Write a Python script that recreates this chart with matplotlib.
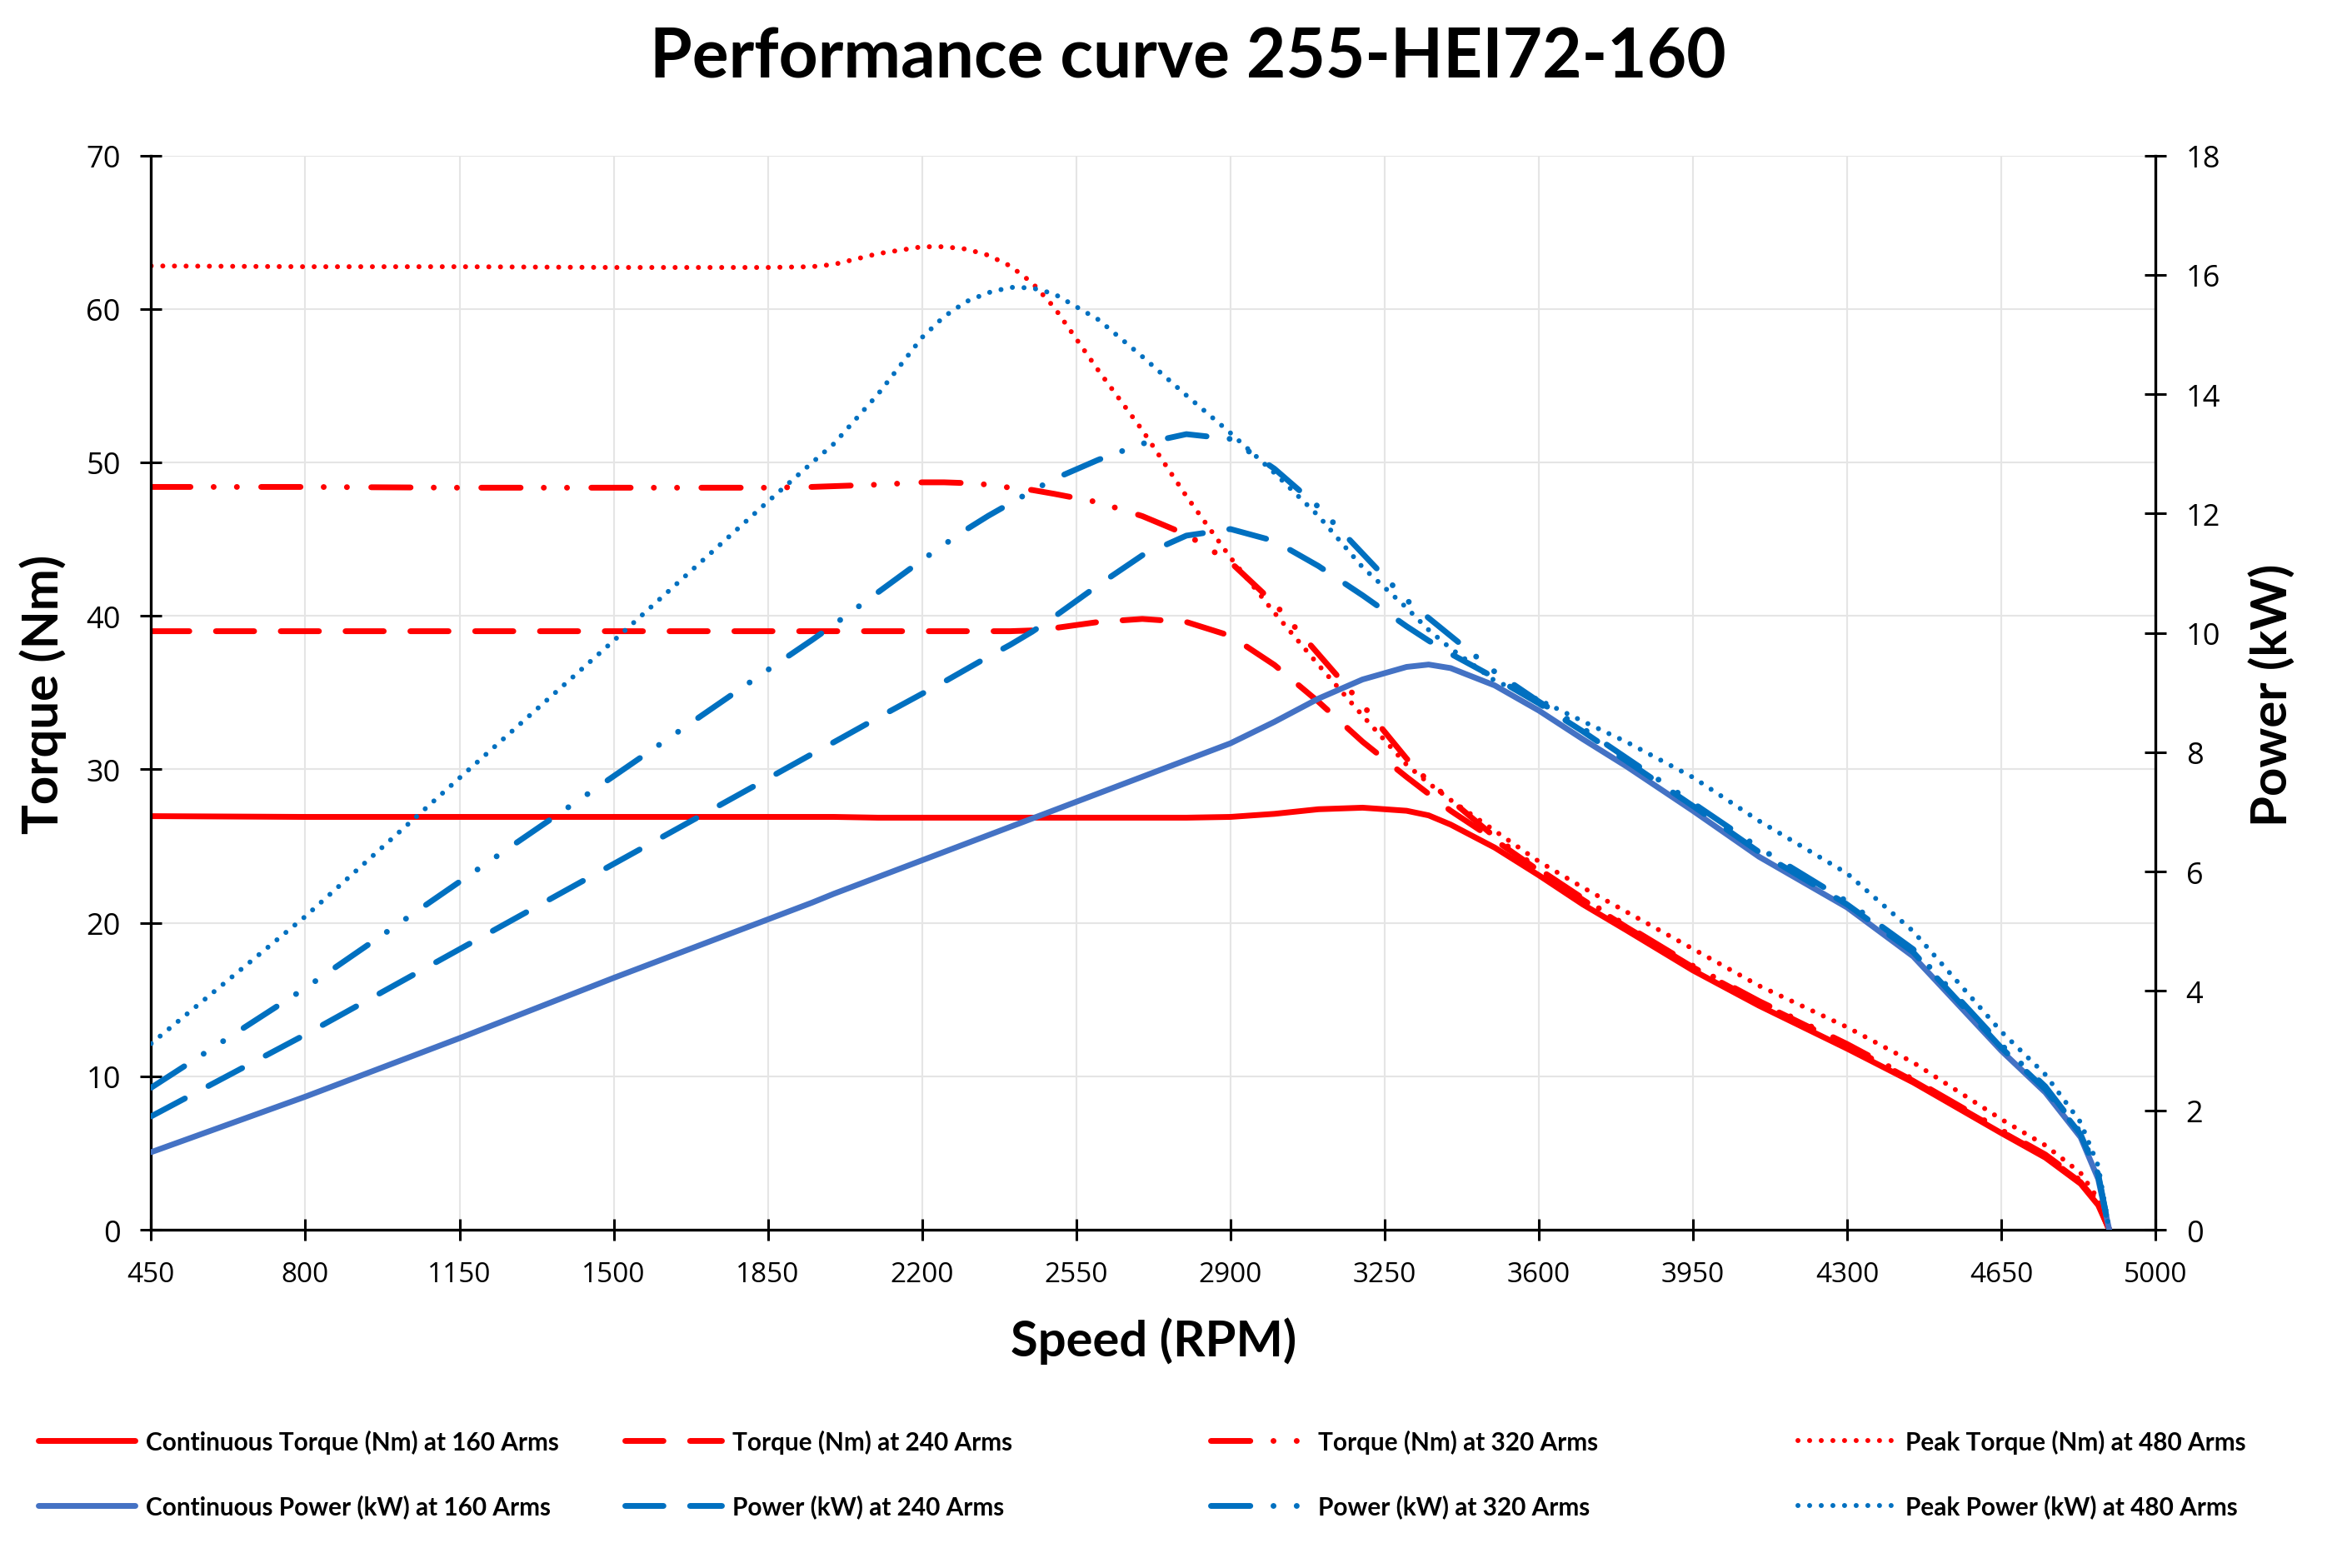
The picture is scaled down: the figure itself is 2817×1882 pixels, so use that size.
import matplotlib.pyplot as plt

# speed points (RPM) shared by all series
rpm = [450, 800, 1150, 1500, 1850, 1950, 2000, 2100, 2200, 2250, 2300, 2350, 2400, 2450, 2500,
       2600, 2700, 2800, 2900, 3000, 3100, 3200, 3300, 3350, 3400, 3500, 3600, 3700,
       3800, 3950, 4100, 4300, 4450, 4650, 4750, 4830, 4870, 4895]

# torque (Nm)
torque_160 = [26.95, 26.9, 26.9, 26.9, 26.9, 26.9, 26.9, 26.85, 26.85, 26.85, 26.85, 26.85, 26.85, 26.85, 26.85,
              26.85, 26.85, 26.85, 26.9, 27.1, 27.4, 27.5, 27.3, 27.0, 26.4, 24.9, 23.1, 21.2,
              19.5, 16.9, 14.6, 11.8, 9.6, 6.3, 4.7, 3.0, 1.6, 0.0]
torque_240 = [39.0, 39.0, 39.0, 39.0, 39.0, 39.0, 39.0, 39.0, 39.0, 39.0, 39.0, 39.0, 39.0, 39.05, 39.2,
              39.6, 39.8, 39.6, 38.7, 36.8, 34.4, 31.8, 29.5, 28.4, 27.3, 25.4, 23.4, 21.5,
              19.7, 17.1, 14.8, 12.0, 9.7, 6.4, 4.8, 3.1, 1.7, 0.0]
torque_320 = [48.4, 48.4, 48.35, 48.35, 48.35, 48.4, 48.45, 48.55, 48.7, 48.7, 48.65, 48.55, 48.35, 48.2, 47.95,
              47.4, 46.5, 45.3, 43.5, 40.8, 37.5, 34.2, 30.7, 29.2, 28.0, 25.6, 23.5, 21.6,
              19.8, 17.2, 14.9, 12.1, 9.8, 6.5, 4.9, 3.2, 1.8, 0.0]
torque_480 = [62.8, 62.75, 62.75, 62.7, 62.7, 62.75, 62.9, 63.6, 64.05, 64.05, 63.9, 63.5, 62.8, 61.7, 60.1,
              56.0, 52.1, 47.8, 43.8, 40.2, 36.8, 33.5, 30.3, 29.1, 28.0, 26.0, 24.0, 22.3,
              20.7, 18.3, 15.9, 13.2, 10.9, 7.2, 5.5, 3.7, 2.0, 0.0]

# power (kW)
power_160 = [1.30, 2.23, 3.21, 4.22, 5.20, 5.48, 5.63, 5.91, 6.19, 6.33, 6.47, 6.61, 6.75, 6.89, 7.03,
             7.31, 7.59, 7.87, 8.15, 8.51, 8.90, 9.22, 9.43, 9.47, 9.41, 9.12, 8.70, 8.22,
             7.76, 7.02, 6.25, 5.40, 4.58, 3.00, 2.30, 1.55, 0.85, 0.0]
power_240 = [1.90, 3.27, 4.70, 6.13, 7.56, 7.97, 8.17, 8.58, 8.98, 9.18, 9.39, 9.60, 9.80, 10.02, 10.27,
             10.80, 11.30, 11.63, 11.74, 11.54, 11.12, 10.63, 10.11, 9.87, 9.65, 9.25, 8.82, 8.35,
             7.85, 7.10, 6.33, 5.45, 4.65, 3.05, 2.35, 1.60, 0.90, 0.0]
power_320 = [2.38, 4.05, 5.83, 7.60, 9.38, 9.88, 10.14, 10.68, 11.22, 11.48, 11.73, 11.96, 12.17, 12.38, 12.58,
             12.90, 13.17, 13.33, 13.25, 12.75, 12.11, 11.33, 10.55, 10.25, 9.95, 9.35, 8.85, 8.40,
             7.90, 7.15, 6.40, 5.50, 4.70, 3.10, 2.40, 1.63, 0.93, 0.0]
power_480 = [3.12, 5.25, 7.57, 9.87, 12.2, 12.85, 13.17, 14.0, 14.95, 15.3, 15.55, 15.70, 15.79, 15.78, 15.68,
             15.25, 14.63, 13.98, 13.35, 12.68, 11.96, 11.10, 10.42, 10.05, 9.74, 9.20, 8.88, 8.52,
             8.17, 7.58, 6.85, 5.97, 5.00, 3.32, 2.60, 1.80, 1.07, 0.0]

x_ticks = list(range(450, 5001, 350))

RED = '#FF0000'
BLUE = '#0070C0'
BLUE_CONT = '#4472C4'

# dash patterns in units of line width (Excel-like)
DASH = (6.6, 4.6)
DASH_DOT_DOT = (6.8, 4.0, 0.01, 4.0, 0.01, 4.2)
DOT = (0.01, 2.33)

fig = plt.figure(figsize=(28.17, 18.83), dpi=100)
ax = fig.add_axes([0.0644, 0.2156, 0.854, 0.6848])
ax2 = ax.twinx()

common = dict(solid_capstyle='round', dash_capstyle='round', solid_joinstyle='round')

t160, = ax.plot(rpm, torque_160, color=RED, lw=5, label='Continuous Torque (Nm) at 160 Arms', **common)
t240, = ax.plot(rpm, torque_240, color=RED, lw=5, dashes=DASH, label='Torque (Nm) at 240 Arms', **common)
t320, = ax.plot(rpm, torque_320, color=RED, lw=5, dashes=DASH_DOT_DOT, label='Torque (Nm) at 320 Arms', **common)
t480, = ax.plot(rpm, torque_480, color=RED, lw=4.3, dashes=DOT, label='Peak Torque (Nm) at 480 Arms', **common)

p160, = ax2.plot(rpm, power_160, color=BLUE_CONT, lw=5, label='Continuous Power (kW) at 160 Arms', **common)
p240, = ax2.plot(rpm, power_240, color=BLUE, lw=5, dashes=DASH, label='Power (kW) at 240 Arms', **common)
p320, = ax2.plot(rpm, power_320, color=BLUE, lw=5, dashes=DASH_DOT_DOT, label='Power (kW) at 320 Arms', **common)
p480, = ax2.plot(rpm, power_480, color=BLUE, lw=4.3, dashes=DOT, label='Peak Power (kW) at 480 Arms', **common)

# axes ranges and ticks
ax.set_xlim(450, 5000)
ax.set_ylim(0, 70)
ax2.set_ylim(0, 18)
ax.set_xticks(x_ticks)
ax.set_yticks(range(0, 71, 10))
ax2.set_yticks(range(0, 19, 2))

ax.grid(True, color='#E5E5E5', lw=1.5)
ax.set_axisbelow(True)

for s in ['top', 'right']:
    ax.spines[s].set_visible(False)
for s in ['top', 'left', 'bottom']:
    ax2.spines[s].set_visible(False)
for sp in [ax.spines['left'], ax.spines['bottom'], ax2.spines['right']]:
    sp.set_linewidth(2.4)
    sp.set_color('black')

ax.tick_params(axis='y', direction='inout', length=18.7, width=2.2, pad=17,
               labelsize=26, labelfontfamily='Open Sans')
ax.tick_params(axis='x', direction='inout', length=18.7, width=2.2, pad=17,
               labelsize=24, labelfontfamily='Open Sans')
ax2.tick_params(axis='y', direction='inout', length=18.7, width=2.2, pad=17,
                labelsize=26, labelfontfamily='Open Sans')

# titles and axis labels
fig.text(0.506, 1 - 94 / 1883, 'Performance curve 255-HEI72-160', ha='center', va='baseline',
         fontsize=59, fontweight='bold', family='Lato')
fig.text(1385 / 2817, 1 - 1628 / 1883, 'Speed (RPM)', ha='center', va='baseline',
         fontsize=43, fontweight='bold', family='Lato')
fig.text(52 / 2817, 1 - 833 / 1883, 'Torque (Nm)', ha='center', va='center', rotation=90,
         fontsize=43, fontweight='bold', family='Lato')
fig.text(2728 / 2817, 1 - 834 / 1883, 'Power (kW)', ha='center', va='center', rotation=90,
         fontsize=43, fontweight='bold', family='Lato')

# legend: four columns, torque on the first row, power on the second
columns = [(t160, p160), (t240, p240), (t320, p320), (t480, p480)]
col_x = [46, 750, 1453, 2158]
for (th, ph), cx in zip(columns, col_x):
    fig.legend(handles=[th, ph], loc='center left', bbox_to_anchor=(cx / 2817, 1 - 1770 / 1883),
               frameon=False, borderpad=0, borderaxespad=0, handlelength=3.9,
               handletextpad=0.45, labelspacing=1.65,
               prop={'family': 'Lato', 'weight': 'bold', 'size': 21.4})

fig.savefig('out.png', dpi=100)
